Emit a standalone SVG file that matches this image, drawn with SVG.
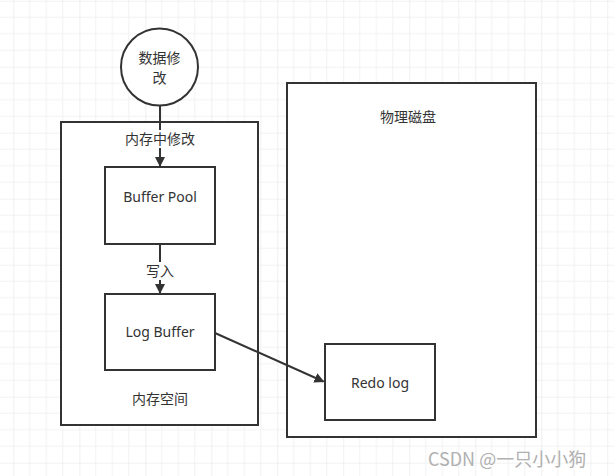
<svg xmlns="http://www.w3.org/2000/svg" width="614" height="476" viewBox="0 0 614 476">
<style>
.box{fill:#fff;stroke:#333;stroke-width:2}
.cn{font-family:"Noto Sans CJK SC","Noto Sans",sans-serif;font-size:14px;fill:#333;text-anchor:middle}
.en{font-family:"Noto Sans","Noto Sans CJK SC",sans-serif;font-size:14px;fill:#333;text-anchor:middle}
.edge{fill:none;stroke:#333;stroke-width:2}
</style>
<defs>
<pattern id="grid" width="66" height="66" patternUnits="userSpaceOnUse" x="13.3" y="0.7">
<path d="M16.5 0V66M33 0V66M49.5 0V66M0 16.5H66M0 33H66M0 49.5H66" stroke="#f2f2f2" stroke-width="1" fill="none"/>
<path d="M0 0V66M0 0H66" stroke="#e6e6e6" stroke-width="1.2" fill="none"/>
</pattern>
<marker id="arr" viewBox="0 0 10 10" refX="9" refY="5" markerWidth="5" markerHeight="5" orient="auto" markerUnits="strokeWidth">
<path d="M0 0L10 5L0 10z" fill="#333"/>
</marker>
</defs>
<rect width="614" height="476" fill="#fff"/>
<rect width="614" height="476" fill="url(#grid)"/>
<g id="memory">
<rect class="box" x="61" y="122" width="197" height="303"/>
<text class="cn" x="160" y="404">内存空间</text>
</g>
<g id="disk">
<rect class="box" x="287" y="83" width="249" height="354"/>
<text class="cn" x="408" y="122">物理磁盘</text>
</g>
<g id="data-change">
<circle class="box" cx="159.5" cy="67" r="38.5"/>
<text class="cn" x="159.5" y="63">数据修</text>
<text class="cn" x="159.5" y="83">改</text>
</g>
<g id="buffer-pool">
<rect class="box" x="105" y="167" width="110" height="77"/>
<text class="en" x="160" y="202">Buffer Pool</text>
</g>
<g id="log-buffer">
<rect class="box" x="105" y="294" width="110" height="76"/>
<text class="en" x="160" y="337">Log Buffer</text>
</g>
<g id="redo-log">
<rect class="box" x="325" y="344" width="110" height="76"/>
<text class="en" x="380" y="388">Redo log</text>
</g>
<g id="connectors">
<path class="edge" d="M160 106V166" marker-end="url(#arr)"/>
<rect x="124" y="130" width="74" height="18" fill="#fff"/>
<text class="cn" x="160" y="144">内存中修改</text>
<path class="edge" d="M160 244V293" marker-end="url(#arr)"/>
<rect x="144" y="262" width="32" height="18" fill="#fff"/>
<text class="cn" x="160" y="276">写入</text>
<path class="edge" d="M215 333L323.5 381.5" marker-end="url(#arr)"/>
</g>
<text x="428" y="466" style="font-family:'Noto Sans CJK SC','Noto Sans',sans-serif;font-size:18px;fill:#b0b0b0">CSDN @一只小小狗</text>
</svg>
